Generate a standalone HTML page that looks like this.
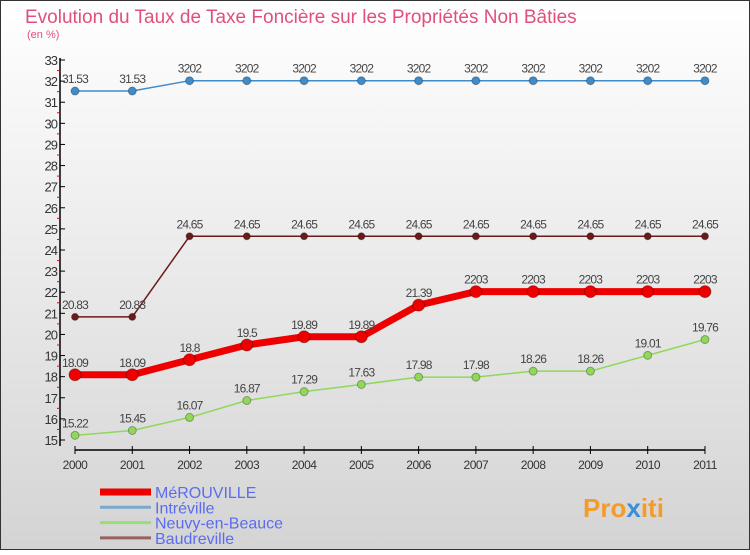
<!DOCTYPE html>
<html><head><meta charset="utf-8"><style>
body{margin:0}
svg{font-family:"Liberation Sans",sans-serif}
</style></head><body>
<svg width="750" height="550" viewBox="0 0 750 550">
<defs><linearGradient id="bg" x1="0" y1="0" x2="0" y2="1"><stop offset="0" stop-color="#ffffff"/><stop offset="1" stop-color="#d4d4d4"/></linearGradient></defs>
<rect x="0.5" y="0.5" width="749" height="549" fill="url(#bg)" stroke="#333"/>
<text x="25" y="23" font-size="19" fill="#e0507a">Evolution du Taux de Taxe Foncière sur les Propriétés Non Bâties</text>
<text x="27" y="38" font-size="11" fill="#e0507a">(en %)</text>
<g id="axes"></g>
<g id="series"></g>
<g id="legend"></g>
<text x="583" y="517" font-size="26" font-weight="bold" fill="#f39c2a">Pro<tspan fill="#3a8fd8">x</tspan>iti</text>
</svg>
<script>
const years=[2000,2001,2002,2003,2004,2005,2006,2007,2008,2009,2010,2011];
const yTicks=[15,16,17,18,19,20,21,22,23,24,25,26,27,28,29,30,31,32,33];
const merouville=[18.09,18.09,18.8,19.5,19.89,19.89,21.39,22.03,22.03,22.03,22.03,22.03];
const intreville=[31.53,31.53,32.02,32.02,32.02,32.02,32.02,32.02,32.02,32.02,32.02,32.02];
const neuvy=[15.22,15.45,16.07,16.87,17.29,17.63,17.98,17.98,18.26,18.26,19.01,19.76];
const baudreville=[20.83,20.83,24.65,24.65,24.65,24.65,24.65,24.65,24.65,24.65,24.65,24.65];
const NS='http://www.w3.org/2000/svg';
const x=i=>75+i*57.27;
const y=v=>440-(v-15)*(380/18);
function mk(t,a,p){const e=document.createElementNS(NS,t);for(const k in a)e.setAttribute(k,a[k]);p.appendChild(e);return e;}
const ax=document.getElementById('axes');
const yl=mk('line',{x1:60,y1:58,x2:60,y2:446,stroke:'#000','stroke-width':1.5},ax);


const xl=mk('line',{x1:75,y1:450,x2:705,y2:450,stroke:'#000','stroke-width':1.5},ax);


yTicks.forEach(v=>{
 mk('line',{x1:60,y1:y(v),x2:65,y2:y(v),stroke:'#000'},ax);
 if(v<33) mk('line',{x1:57,y1:y(v+0.5),x2:60,y2:y(v+0.5),stroke:'#e00'},ax);
 const t=mk('text',{x:57,y:y(v)+5,'font-size':13,'text-anchor':'end',fill:'#333','letter-spacing':'-1'},ax);
 t.textContent=v;
 
 
});
years.forEach((yr,i)=>{
 mk('line',{x1:x(i),y1:446,x2:x(i),y2:454,stroke:'#000'},ax);
 const t=mk('text',{x:x(i),y:469,'font-size':12,'text-anchor':'middle',fill:'#333','letter-spacing':'-0.5'},ax);
 t.textContent=yr;
 
 
});
const sg=document.getElementById('series');
function fmt(v){const s=String(v);return (v===32.02||v===22.03)?s.replace('.',''):s;}
function series(vals,color,w,r,name){
 const g=mk('g',{},sg);
 
 
 mk('polyline',{points:vals.map((v,i)=>x(i)+','+y(v)).join(' '),fill:'none',stroke:color,'stroke-width':w,'stroke-linejoin':'round'},g);
 vals.forEach((v,i)=>{
  const c=mk('circle',{cx:x(i),cy:y(v),r:r,fill:color,stroke:'rgba(0,0,0,0.3)'},g);
  
  
  const t=mk('text',{x:x(i),y:y(v)-8,'font-size':12,'text-anchor':'middle',fill:'#444','letter-spacing':'-0.8'},g);
  t.textContent=fmt(v);
  
  
 });
}
series(intreville,'#3f8ccb',1.5,4,'intreville-series');
series(baudreville,'#6b1a1a',1.5,3.5,'baudreville-series');
series(neuvy,'#8fd85a',1.5,4,'neuvy-series');
series(merouville,'#ee0000',7,6,'merouville-series');
const lg=document.getElementById('legend');
[['MéROUVILLE','#ee0000',7],['Intréville','#7aa9cc',3],['Neuvy-en-Beauce','#99dd77',3],['Baudreville','#9a6060',3]].forEach((e,i)=>{
 const yy=492+i*15.3;
 const g=mk('g',{},lg);
 
 
 mk('line',{x1:100,y1:yy,x2:151,y2:yy,stroke:e[1],'stroke-width':e[2]},g);
 const t=mk('text',{x:155,y:yy+6,'font-size':16,fill:'#5b6cf0'},g);
 t.textContent=e[0];
});
</script>
</body></html>
